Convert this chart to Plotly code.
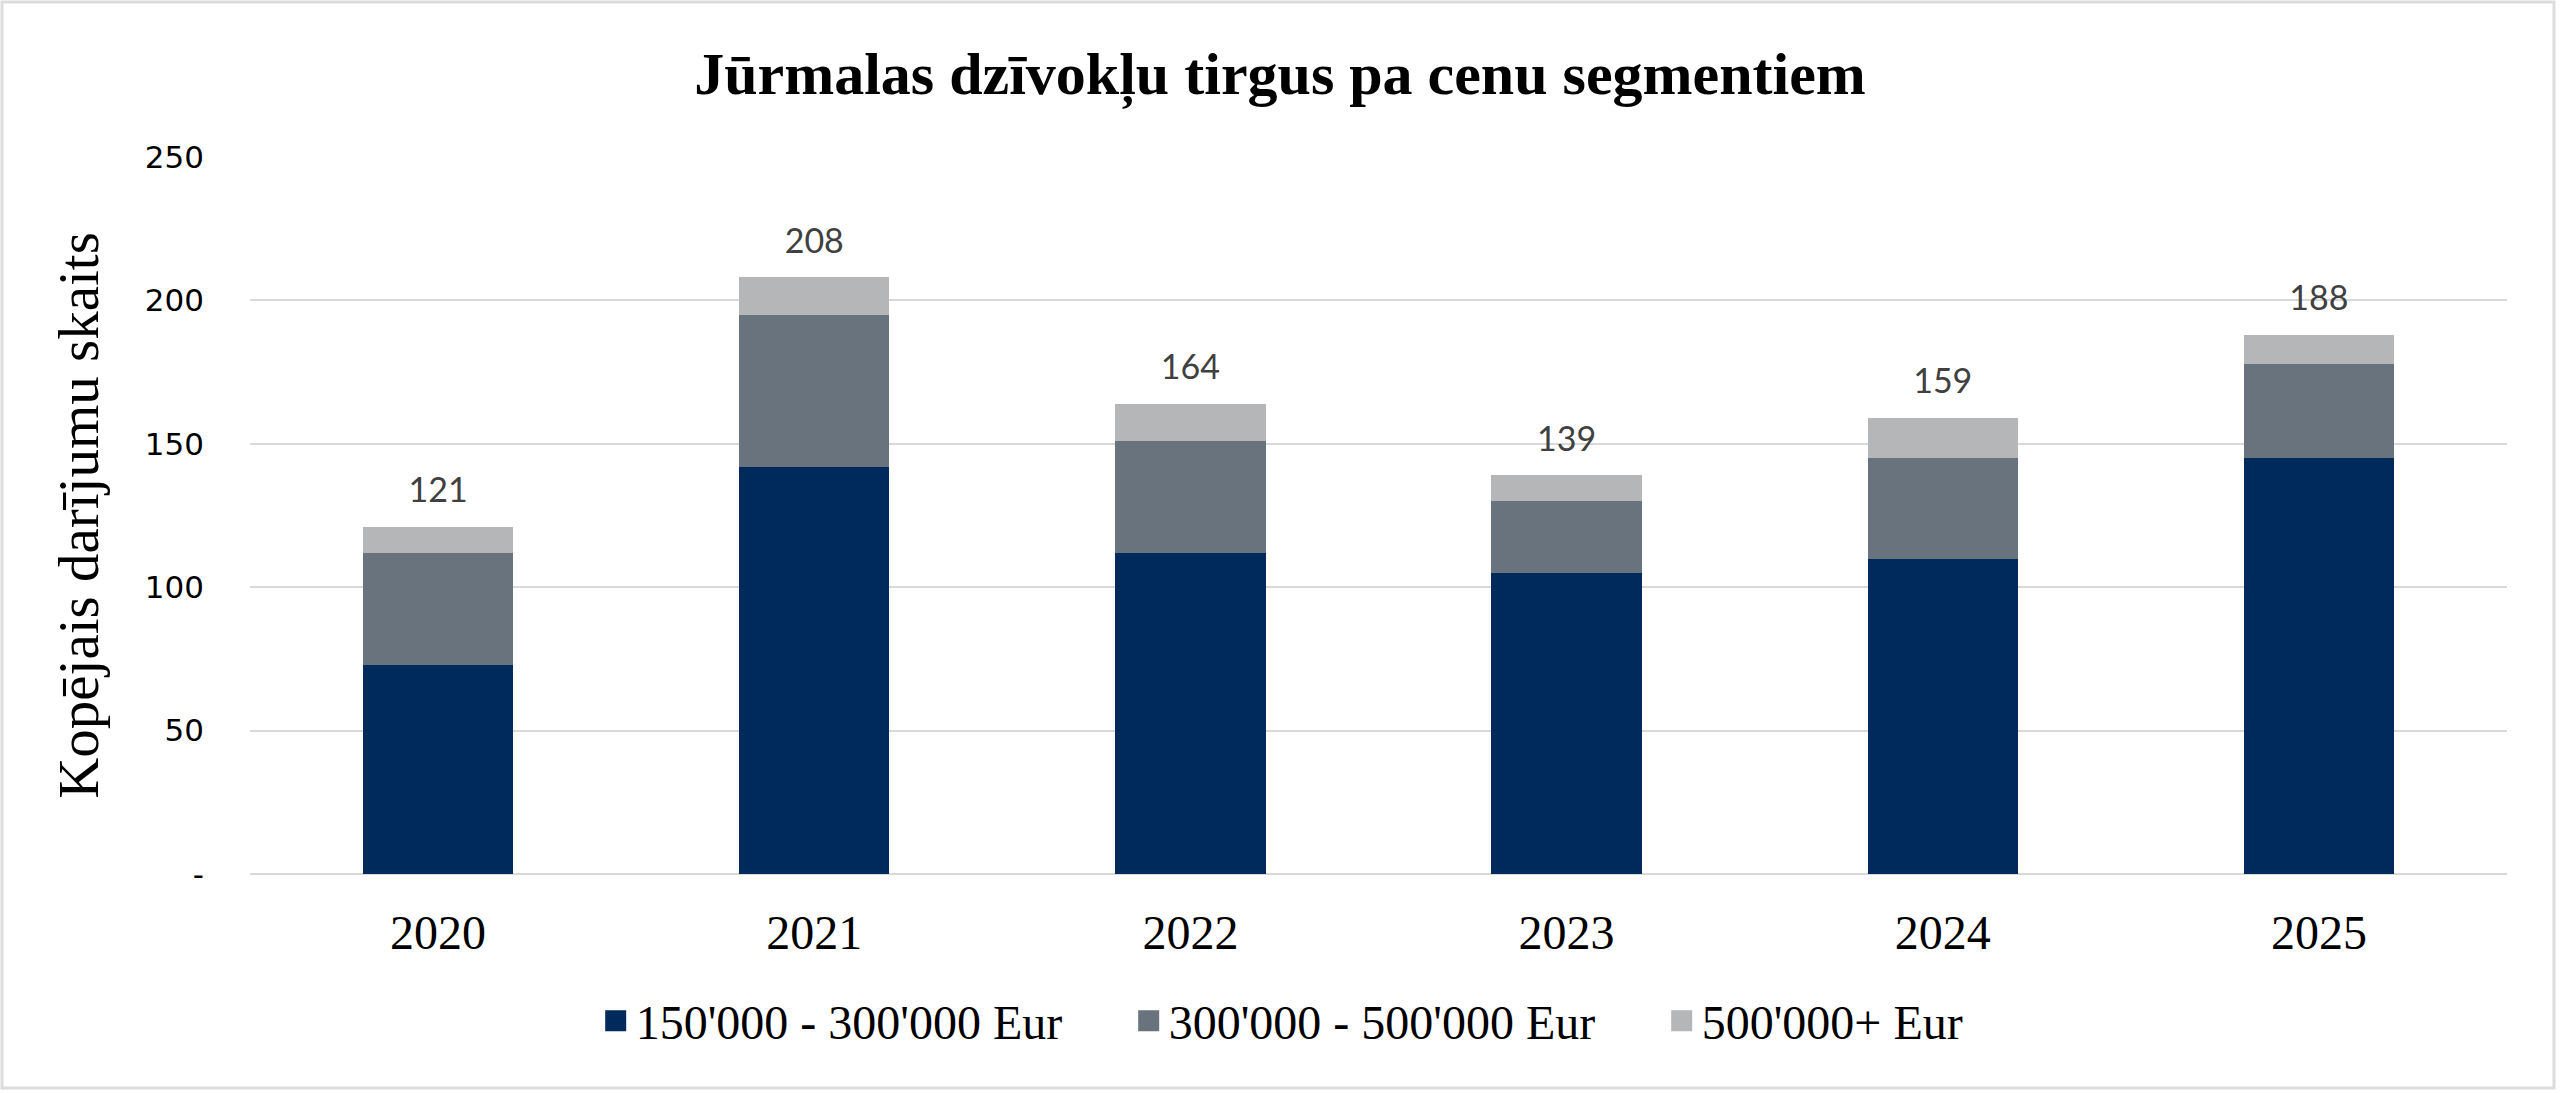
import plotly.graph_objects as go

years = ["2020", "2021", "2022", "2023", "2024", "2025"]
seg_names = ["150'000 - 300'000 Eur", "300'000 - 500'000 Eur", "500'000+ Eur"]
seg_low = [73, 142, 112, 105, 110, 145]
seg_mid = [39, 53, 39, 25, 35, 33]
seg_high = [9, 13, 13, 9, 14, 10]
seg_colors = ["#002A5C", "#68737E", "#B5B6B8"]
y_tickvals = [0, 50, 100, 150, 200, 250]
y_ticktext = ["-", "50", "100", "150", "200", "250"]

totals = [a + b + c for a, b, c in zip(seg_low, seg_mid, seg_high)]

W, H = 2560, 1093
ML, MR, MT, MB = 250, 53, 157, 219

fig = go.Figure()
for name, vals, col in zip(seg_names, [seg_low, seg_mid, seg_high], seg_colors):
    fig.add_trace(go.Bar(x=years, y=vals, name=name, marker=dict(color=col, line=dict(width=0)),
                         showlegend=False, hoverinfo="y"))
    # legend proxy with larger square symbol
    fig.add_trace(go.Scatter(x=[None], y=[None], mode="markers", name=name,
                             marker=dict(symbol="square", size=16, color=col,
                                         line=dict(color=col, width=5)),
                             showlegend=True))

fig.add_trace(go.Scatter(x=years, y=totals, mode="markers+text", text=[str(t) for t in totals],
                         textposition="top center",
                         marker=dict(size=24, opacity=0, color="white"),
                         textfont=dict(family="Lato", size=34, color="#404040"),
                         showlegend=False, hoverinfo="skip"))

pw = W - ML - MR
ph = H - MT - MB
fig.add_shape(type="rect", xref="paper", yref="paper",
              x0=(2 - ML) / pw, x1=(W - 6 - ML) / pw,
              y0=-(H - 5 - MT - ph) / ph, y1=1 + (MT - 2) / ph,
              line=dict(color="#DCDCDC", width=3), fillcolor="rgba(0,0,0,0)", layer="below")

fig.update_layout(
    width=W, height=H,
    margin=dict(l=ML, r=MR, t=MT, b=MB, pad=0),
    barmode="stack", bargap=0.6,
    paper_bgcolor="white", plot_bgcolor="white",
    title=dict(text="<b>Jūrmalas dzīvokļu tirgus pa cenu segmentiem</b>",
               font=dict(family="Liberation Serif", size=60, color="black"),
               x=0.5, xanchor="center", xref="container",
               y=1 - 73 / H, yanchor="middle", yref="container"),
    legend=dict(orientation="h", x=0.545, xanchor="center", xref="container",
                y=(H - 1021) / H, yanchor="middle", yref="container",
                font=dict(family="Liberation Serif", size=48, color="black"),
                itemsizing="trace", entrywidth=488, entrywidthmode="pixels",
                traceorder="normal"),
    xaxis=dict(type="category", showgrid=False, showline=False, ticks="",
               tickfont=dict(family="Liberation Serif", size=48, color="black"),
               ticklabelstandoff=26),
    yaxis=dict(range=[0, 250], tickvals=y_tickvals, ticktext=y_ticktext,
               showgrid=True, gridcolor="#D9D9D9", gridwidth=2,
               zeroline=True, zerolinecolor="#D9D9D9", zerolinewidth=2,
               showline=False, ticks="",
               tickfont=dict(family="DejaVu Sans", size=31, color="black"),
               ticklabelstandoff=45,
               title=dict(text="Kopējais darījumu skaits",
                          font=dict(family="Liberation Serif", size=57, color="black"),
                          standoff=27)),
    showlegend=True,
)

fig.write_html("out.html", config={"displayModeBar": False},
               post_script="document.body.style.margin='0';document.body.style.overflow='hidden';")
